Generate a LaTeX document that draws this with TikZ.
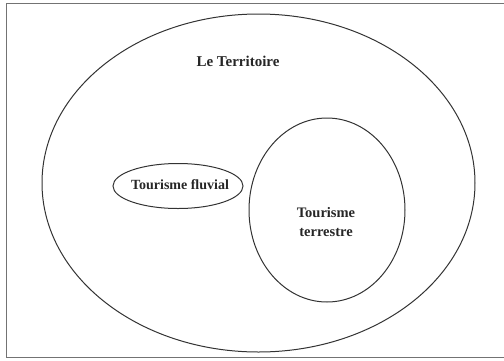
\documentclass[tikz,border=0pt]{standalone}
\usepackage{fontspec}
\setmainfont{Liberation Serif}
\begin{document}
\begin{tikzpicture}[x=1pt,y=-1pt,
  ring/.style={draw=black!80,line width=1pt},
  lbl/.style={font=\bfseries\fontsize{14.5}{19}\selectfont,text=black!85,align=center}]
\useasboundingbox (0,0) rectangle (504,360);
\draw[draw=black!55,line width=1pt] (520,3.5) -- (6.5,3.5) -- (6.5,357.5) -- (520,357.5);
\draw[ring] (258.5,183) ellipse [x radius=216.5, y radius=169];
\draw[ring] (178,186) ellipse [x radius=65, y radius=22.5];
\draw[ring] (327,210) ellipse [x radius=78, y radius=92];
\node[lbl,font=\bfseries\fontsize{15}{19}\selectfont] (terr) at (238,61) {Le Territoire};
\node[lbl,font=\bfseries\fontsize{14}{18}\selectfont] (fluv) at (180,185) {Tourisme fluvial};
\node[lbl] (terre) at (326,222) {Tourisme\\terrestre};
\end{tikzpicture}
\end{document}
